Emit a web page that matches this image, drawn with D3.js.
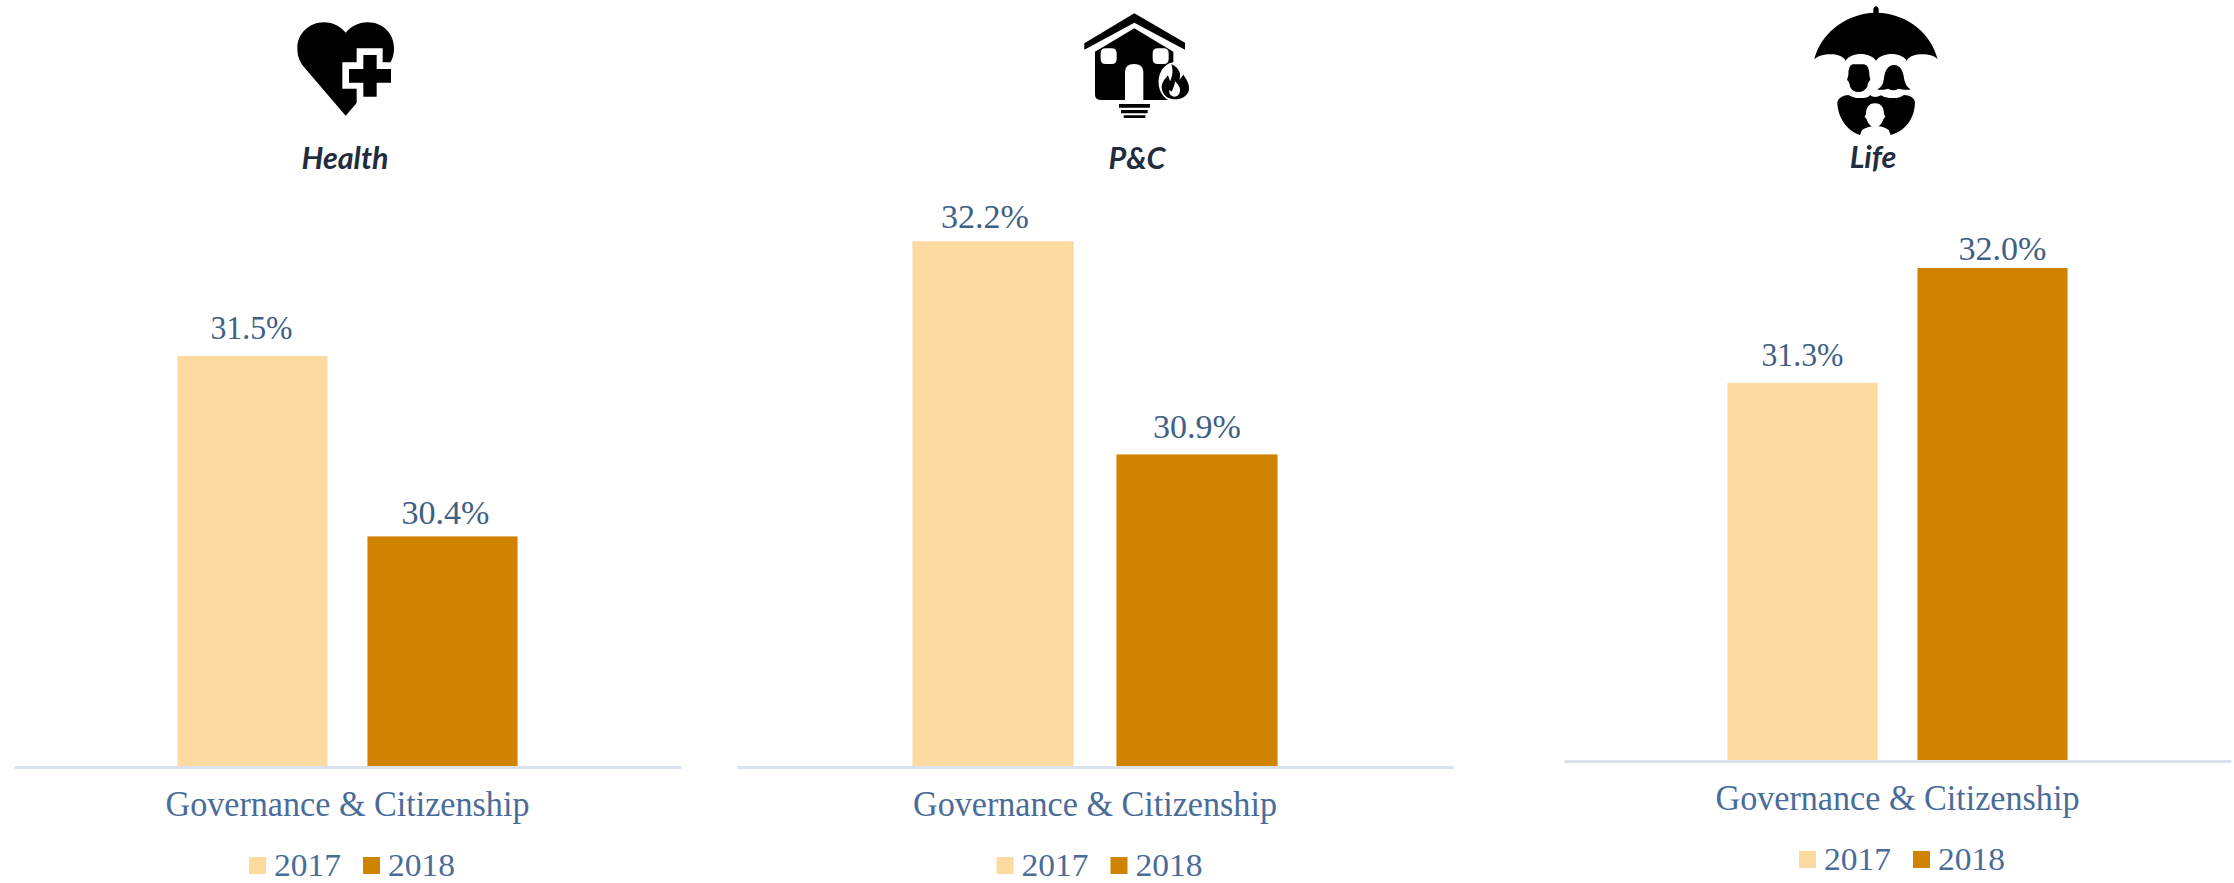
<!DOCTYPE html>
<html>
<head>
<meta charset="utf-8">
<style>
  html, body { margin: 0; padding: 0; background: #fff; }
  svg { display: block; }
</style>
<script src="https://cdn.jsdelivr.net/npm/d3@7"></script>
</head>
<body>
<svg id="chart" width="2234" height="883"></svg>
<script>
// Governance & Citizenship scores by line of business
const category = "Governance & Citizenship";
const years = ["2017", "2018"];
const lines = ["Health", "P&C", "Life"];
const values2017 = [31.5, 32.2, 31.3];
const values2018 = [30.4, 30.9, 32.0];

const yearColor = d3.scaleOrdinal(years, ["#fddaa0", "#cf8300"]);
const serif = "'Liberation Serif', Georgia, serif";

// Horizontal extent and baseline of each small multiple
const panelLeft = [14, 737, 1564];
const panelRight = [681, 1453, 2231];
const panelBase = [766, 766, 760];
const titleCenter = [345, 1137, 1873];
const titleBase = [169, 169, 168];

// Hand-placed nudges for the value labels, per line of business
const labelNudgeX = { "2017": [-1, -8, 0], "2018": [3, 0, 10] };
const labelLift = { "2017": [17, 13, 17], "2018": [12, 16, 8] };
const labelWidth = { "2017": [82, 88, 82], "2018": [88, 88, 88] };

// Icons are traced on a 3x grid and scaled down when placed
const iconOffset = [250, 1040, 1780];
const iconParts = [
  [ // heart with a medical cross
    { fill: "#000", d: "M287,347 L165,205 C148,185 142,168 142,145 C142,100 178,67 222,67 C250,67 272,80 287,98 C302,80 325,67 353,67 C398,67 432,100 432,145 C432,168 425,185 410,205 Z" },
    { fill: "#fff", d: "M320,145 H398 V187 H450 V360 H320 V266 H277 V187 H320 Z" },
    { fill: "#000", d: "M340,165 H380 V207 H423 V248 H380 V290 H340 V248 H297 V207 H340 Z" }
  ],
  [ // house on fire
    { fill: "#000", d: "M283,40 L435,128 V149 L283,68 L133,149 V130 Z" },
    { fill: "#000", d: "M283,85 L400,155 V300 H182 Q165,300 165,283 V155 Z" },
    { fill: "#fff", d: "M197,145 H215 Q230,145 230,160 V177 Q230,192 215,192 H197 Q182,192 182,177 V160 Q182,145 197,145 Z M353,145 H371 Q386,145 386,160 V177 Q386,192 371,192 H353 Q338,192 338,177 V160 Q338,145 353,145 Z" },
    { fill: "#fff", d: "M255,300 V215 Q255,192 282,192 Q310,192 310,215 V300 Z" },
    { fill: "#fff", d: "M405,186 A50,60 0 1,0 406,306 A50,60 0 1,0 405,186 Z" },
    { fill: "#000", d: "M394,192 C420,206 424,222 418,240 L430,224 C442,240 449,255 447,270 C443,288 425,298 405,298 C385,298 367,286 365,264 C364,248 376,236 384,226 L390,244 C398,228 400,210 394,192 Z" },
    { fill: "#fff", d: "M405,244 C412,252 424,262 419,278 C415,287 408,290 402,290 C392,288 386,280 388,270 L395,275 C400,264 404,256 405,244 Z" },
    { fill: "#000", d: "M237,312 H330 V323 H237 Z M243,330 H323 V340 H243 Z M251,346 H316 V354 H251 Z" }
  ],
  [ // umbrella sheltering a family
    { fill: "#000", d: "M280,38 V26 Q288,10 296,26 V38 C390,44 455,105 473,178 C460,160 395,155 380,182 C365,155 305,155 288,182 C272,155 212,155 197,182 C182,155 120,160 103,178 C120,105 190,44 280,38 Z" },
    { fill: "#000", d: "M218,193 H252 Q268,195 268,225 L271,240 Q264,245 262,260 Q252,276 235,276 Q218,276 210,260 Q208,245 201,240 L205,225 Q205,195 218,193 Z" },
    { fill: "#000", d: "M342,195 C362,195 370,215 372,235 C375,252 382,262 392,268 Q385,272 355,266 Q340,276 325,266 Q300,272 292,268 C305,262 310,250 312,235 C314,215 322,195 342,195 Z" },
    { fill: "#000", d: "M172,305 Q182,285 205,285 Q222,296 245,294 Q262,296 270,286 Q285,296 303,286 Q315,296 335,294 Q358,296 372,285 Q398,285 405,305 C405,345 385,390 332,405 L326,390 Q310,378 288,378 Q265,378 246,390 L240,405 C195,390 172,345 172,305 Z" },
    { fill: "#fff", d: "M285,310 C305,310 312,325 312,342 L316,350 L310,358 C306,372 296,382 285,382 C274,382 264,372 260,358 L254,350 L258,342 C258,325 265,310 285,310 Z" }
  ]
];

const svg = d3.select("#chart");

lines.forEach((name, i) => {
  const left = panelLeft[i], right = panelRight[i], base = panelBase[i];
  const mid = (left + right) / 2;
  const g = svg.append("g").attr("class", "panel");
  const rows = [
    { year: "2017", value: values2017[i] },
    { year: "2018", value: values2018[i] }
  ];

  // Same value scale in every panel, truncated at 29
  const y = d3.scaleLinear().domain([29, 33]).range([base, base - 656]);
  const x = d3.scaleBand().domain(years).range([left, right])
    .paddingInner(0.21).paddingOuter(0.86);

  g.append("g").attr("class", "icon")
    .attr("transform", `translate(${iconOffset[i]},0) scale(${1 / 3})`)
    .selectAll("path").data(iconParts[i]).join("path")
    .attr("d", d => d.d).attr("fill", d => d.fill);

  g.append("text").text(name)
    .attr("x", titleCenter[i]).attr("y", titleBase[i])
    .attr("text-anchor", "middle")
    .style("font", "italic 700 30.5px Lato, sans-serif")
    .attr("fill", "#1f2d3f");

  g.selectAll("rect.bar").data(rows).join("rect")
    .attr("class", "bar")
    .attr("x", d => x(d.year)).attr("width", x.bandwidth())
    .attr("y", d => y(d.value)).attr("height", d => y(29) - y(d.value))
    .attr("fill", d => yearColor(d.year));

  g.selectAll("text.value").data(rows).join("text")
    .attr("class", "value")
    .text(d => d.value.toFixed(1) + "%")
    .attr("x", d => x(d.year) + x.bandwidth() / 2 + labelNudgeX[d.year][i])
    .attr("y", d => y(d.value) - labelLift[d.year][i])
    .attr("text-anchor", "middle")
    .attr("textLength", d => labelWidth[d.year][i]).attr("lengthAdjust", "spacingAndGlyphs")
    .style("font", `33px ${serif}`)
    .attr("fill", "#3f5f85");

  // Category axis: a single band carrying the group label
  const xCat = d3.scaleBand().domain([category]).range([left, right]);
  const axis = g.append("g").attr("transform", `translate(0,${base + 1})`)
    .call(d3.axisBottom(xCat).tickSize(0).tickSizeOuter(0));
  axis.select(".domain").attr("stroke", "#d9e2ee").attr("stroke-width", 3);
  axis.selectAll(".tick text")
    .attr("y", 49).attr("dy", 0)
    .attr("textLength", 364).attr("lengthAdjust", "spacingAndGlyphs")
    .style("font", `35px ${serif}`)
    .attr("fill", "#4a6c99");

  // Legend
  const legend = g.selectAll("g.key").data(years).join("g")
    .attr("class", "key")
    .attr("transform", (d, k) => `translate(${mid - 98.5 + k * 114},${base + 91})`);
  legend.append("rect").attr("width", 17).attr("height", 17)
    .attr("fill", d => yearColor(d));
  legend.append("text").text(d => d)
    .attr("x", 25).attr("y", 19)
    .attr("textLength", 67).attr("lengthAdjust", "spacingAndGlyphs")
    .style("font", `31.5px ${serif}`)
    .attr("fill", "#4a6c99");
});
</script>
</body>
</html>
